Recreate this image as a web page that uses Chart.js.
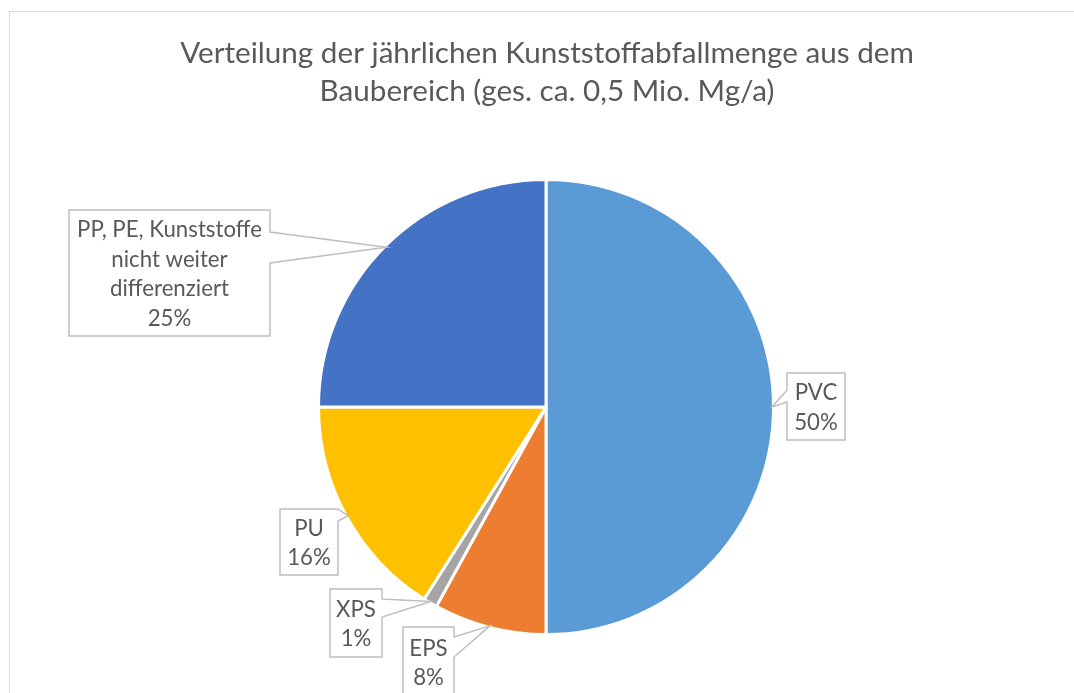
<!DOCTYPE html>
<html><head><meta charset="utf-8">
<script src="https://cdn.jsdelivr.net/npm/chart.js@4.4.1/dist/chart.umd.min.js"></script>
<style>html,body{margin:0;padding:0;background:#fff;overflow:hidden}canvas{display:block}</style>
</head><body>
<canvas id="c" width="1074" height="693"></canvas>
<script>
const categories = ['PVC', 'EPS', 'XPS', 'PU', 'PP, PE, Kunststoffe nicht weiter differenziert'];
const labelLines = [['PVC'], ['EPS'], ['XPS'], ['PU'], ['PP, PE, Kunststoffe', 'nicht weiter', 'differenziert']];
const shares = [50, 8, 1, 16, 25];
const colors = ['#5B9BD5', '#ED7D31', '#A5A5A5', '#FFC000', '#4472C4'];
const titleLines = ['Verteilung der jährlichen Kunststoffabfallmenge aus dem', 'Baubereich (ges. ca. 0,5 Mio. Mg/a)'];

// callout box layout (box rect, side of the pointer, pointer base span)
const callouts = [
  {x: 787, y: 373, w: 58, h: 67, side: 'left', b0: 390, b1: 402},
  {x: 403, y: 627, w: 51, h: 70, side: 'right', b0: 637, b1: 657},
  {x: 330, y: 589, w: 52, h: 68, side: 'right', b0: 599, b1: 617},
  {x: 280, y: 509, w: 58, h: 66, side: 'right', b0: 509, b1: 521},
  {x: 69, y: 210, w: 201, h: 126, side: 'right', b0: 232, b1: 263}
];

const FAMILY = 'Lato, "Open Sans", sans-serif';
const TEXT = '#595959';
const BW = 3;

function fitSize(ctx, text, target) {
  ctx.font = '100px ' + FAMILY;
  return 100 * target / ctx.measureText(text).width;
}

const framePlugin = {
  id: 'frame',
  beforeDraw(chart) {
    const ctx = chart.ctx;
    ctx.save();
    ctx.fillStyle = '#fff';
    ctx.fillRect(0, 0, chart.width, chart.height);
    ctx.strokeStyle = '#D9D9D9';
    ctx.lineWidth = 1;
    ctx.strokeRect(9.5, 11.5, 1300, 1000);
    const ts = fitSize(ctx, titleLines[0], 734);
    ctx.font = ts + 'px ' + FAMILY;
    ctx.fillStyle = TEXT;
    ctx.textAlign = 'center';
    ctx.textBaseline = 'alphabetic';
    ctx.fillText(titleLines[0], 547, 63);
    ctx.fillText(titleLines[1], 547, 101);
    ctx.restore();
  }
};

const calloutPlugin = {
  id: 'callouts',
  afterDatasetsDraw(chart) {
    const ctx = chart.ctx;
    const meta = chart.getDatasetMeta(0);
    const total = shares.reduce((a, b) => a + b, 0);
    const ls = fitSize(ctx, 'PP, PE, Kunststoffe', 185);
    ctx.save();
    meta.data.forEach((el, i) => {
      const p = el.getProps(['x', 'y', 'startAngle', 'endAngle', 'outerRadius'], true);
      const mid = (p.startAngle + p.endAngle) / 2;
      const r = p.outerRadius - BW / 2;
      const tx = p.x + Math.cos(mid) * r, ty = p.y + Math.sin(mid) * r;
      const c = callouts[i];
      ctx.beginPath();
      if (c.side === 'right') {
        ctx.moveTo(c.x, c.y);
        ctx.lineTo(c.x + c.w, c.y);
        ctx.lineTo(c.x + c.w, c.b0);
        ctx.lineTo(tx, ty);
        ctx.lineTo(c.x + c.w, c.b1);
        ctx.lineTo(c.x + c.w, c.y + c.h);
        ctx.lineTo(c.x, c.y + c.h);
        ctx.closePath();
      } else {
        ctx.moveTo(c.x, c.y);
        ctx.lineTo(c.x + c.w, c.y);
        ctx.lineTo(c.x + c.w, c.y + c.h);
        ctx.lineTo(c.x, c.y + c.h);
        ctx.lineTo(c.x, c.b1);
        ctx.lineTo(tx, ty);
        ctx.lineTo(c.x, c.b0);
        ctx.closePath();
      }
      ctx.fillStyle = '#fff';
      ctx.fill();
      ctx.strokeStyle = '#BFBFBF';
      ctx.lineWidth = 1.5;
      ctx.lineJoin = 'miter';
      ctx.stroke();

      const lines = labelLines[i].concat([Math.round(shares[i] / total * 100) + '%']);
      ctx.font = ls + 'px ' + FAMILY;
      ctx.fillStyle = TEXT;
      ctx.textAlign = 'center';
      ctx.textBaseline = 'alphabetic';
      const capH = ctx.measureText('H').actualBoundingBoxAscent;
      const lh = 29.5;
      const cy = c.y + c.h / 2;
      const first = cy - (lines.length - 1) / 2 * lh + capH / 2;
      lines.forEach((t, k) => ctx.fillText(t, c.x + c.w / 2, first + k * lh));
    });
    ctx.restore();
  }
};

new Chart(document.getElementById('c'), {
  type: 'pie',
  data: {
    labels: categories,
    datasets: [{
      data: shares,
      backgroundColor: colors,
      borderColor: '#FFFFFF',
      borderWidth: BW,
      hoverOffset: 0,
      offset: 0
    }]
  },
  options: {
    responsive: false,
    animation: false,
    events: [],
    layout: {padding: {left: 317, right: 299, top: 178, bottom: 57}},
    plugins: {legend: {display: false}, tooltip: {enabled: false}}
  },
  plugins: [framePlugin, calloutPlugin]
});
</script>
</body></html>
